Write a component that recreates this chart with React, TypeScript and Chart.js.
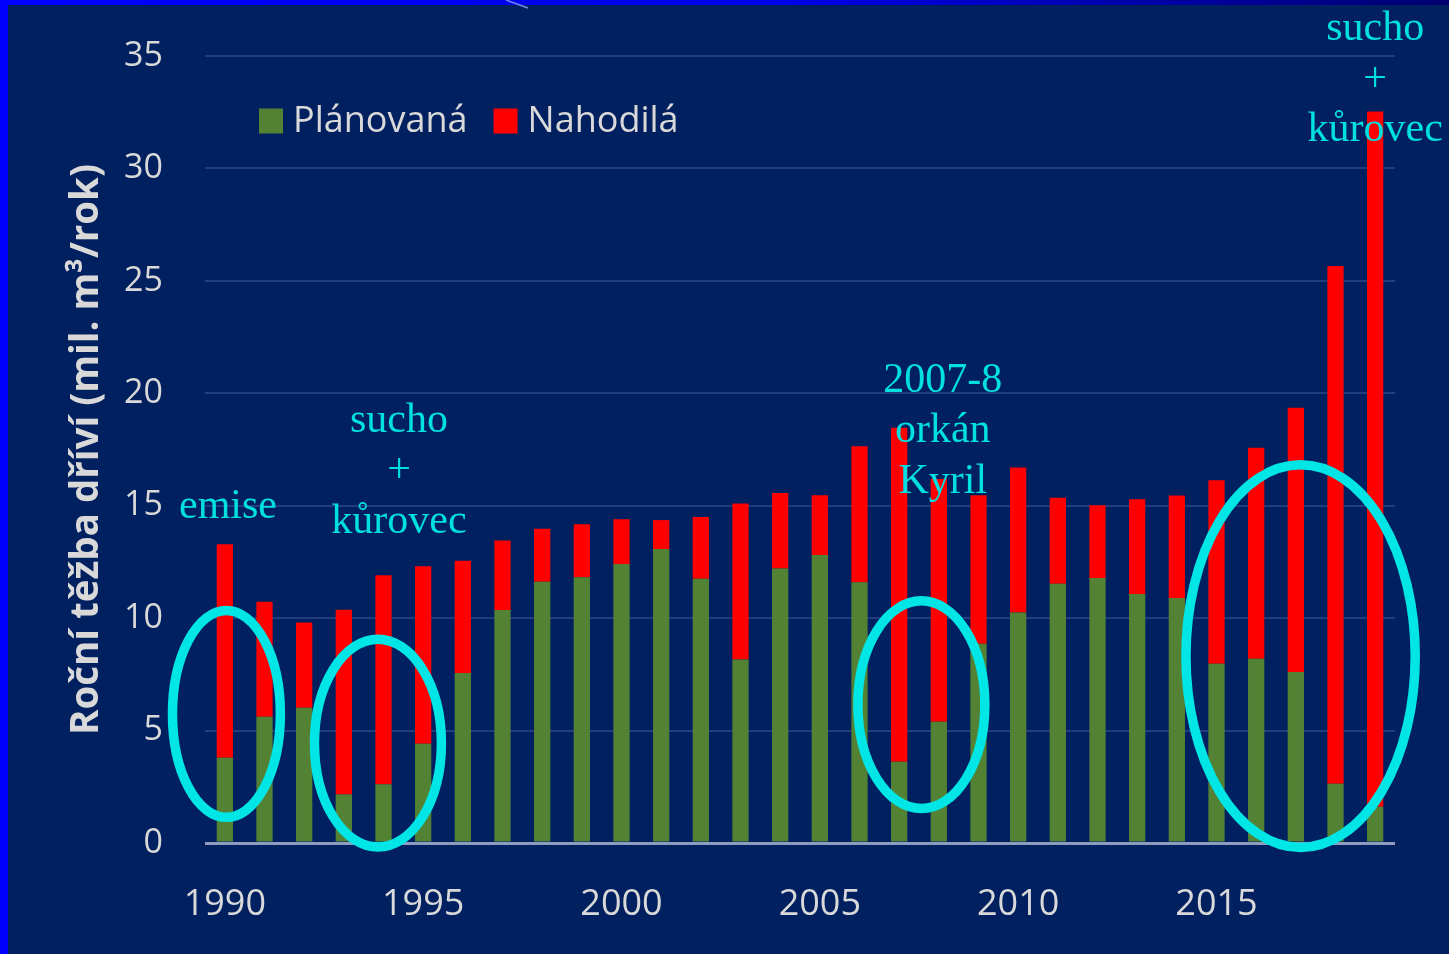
import React, { useEffect, useRef } from 'react';
import { Chart, registerables } from 'chart.js';

Chart.register(...registerables);

// ---- data ----
const years = [
  '1990', '1991', '1992', '1993', '1994', '1995', '1996', '1997', '1998', '1999',
  '2000', '2001', '2002', '2003', '2004', '2005', '2006', '2007', '2008', '2009',
  '2010', '2011', '2012', '2013', '2014', '2015', '2016', '2017', '2018', '2019',
];
const shownYearLabels = ['1990', '1995', '2000', '2005', '2010', '2015'];

// Plánovaná těžba (mil. m3)
const planned = [
  3.79, 5.61, 6.01, 2.16, 2.61, 4.41, 7.56, 10.36, 11.62, 11.82,
  12.41, 13.07, 11.75, 8.16, 12.21, 12.81, 11.6, 3.61, 5.39, 8.86,
  10.25, 11.53, 11.79, 11.07, 10.9, 7.97, 8.19, 7.61, 2.63, 1.61,
];
// Nahodilá těžba (mil. m3)
const salvage = [
  9.5, 5.12, 3.8, 8.21, 9.3, 7.9, 4.99, 3.09, 2.35, 2.36,
  1.99, 1.29, 2.75, 6.94, 3.36, 2.66, 6.04, 14.86, 10.8, 6.61,
  6.45, 3.82, 3.23, 4.22, 4.55, 8.16, 9.39, 11.75, 23.03, 30.92,
];

const seriesLabels = ['Plánovaná', 'Nahodilá'];
const seriesColors = ['#548235', '#ff0000'];

const yTitle = 'Roční těžba dříví (mil. m³/rok)';

// annotation ellipses in data units (category index, value)
const ellipseCx = [0.04, 3.86, 17.56, 27.12];
const ellipseCy = [5.74, 4.44, 6.15, 8.31];
const ellipseRx = [1.36, 1.6, 1.6, 2.89];
const ellipseRy = [4.6, 4.62, 4.62, 8.51];

// annotation texts: lines, anchor category index, first-line baseline value
const noteLines = [
  ['emise'],
  ['sucho', '+', 'kůrovec'],
  ['2007-8', 'orkán', 'Kyril'],
  ['sucho', '+', 'kůrovec'],
];
const noteX = [0.08, 4.39, 18.1, 29.0];
const noteY = [14.45, 18.28, 20.06, 35.71];

const TICK_COLOR = '#d9d9d9';
const SANS = '"Open Sans", "Noto Sans", sans-serif';
const SERIF = '"Liberation Serif", "DejaVu Serif", serif';

const backgroundPlugin = {
  id: 'slideBackground',
  beforeDraw(chart: any) {
    const { ctx, width, height } = chart;
    ctx.save();
    ctx.fillStyle = '#002060';
    ctx.fillRect(0, 0, width, height);
    const g = ctx.createLinearGradient(0, 0, width, 0);
    g.addColorStop(0, '#0000ff');
    g.addColorStop(0.55, '#0000e8');
    g.addColorStop(1, '#000070');
    ctx.fillStyle = g;
    ctx.fillRect(0, 0, width, 5);
    ctx.fillStyle = '#0000ff';
    ctx.fillRect(0, 0, 8, height);
    ctx.strokeStyle = 'rgba(140,170,255,0.8)';
    ctx.lineWidth = 1.5;
    ctx.beginPath();
    ctx.moveTo(506, 0);
    ctx.lineTo(528, 8);
    ctx.stroke();
    ctx.restore();
  },
};

const legendPlugin = {
  id: 'insideLegend',
  afterDraw(chart: any) {
    const { ctx } = chart;
    ctx.save();
    ctx.font = `36px ${SANS}`;
    ctx.textBaseline = 'middle';
    ctx.textAlign = 'left';
    let x = 259;
    const cy = 121;
    chart.data.datasets.forEach((ds: any) => {
      ctx.fillStyle = ds.backgroundColor;
      ctx.fillRect(x, cy - 12.5, 24, 25);
      x += 34;
      ctx.fillStyle = TICK_COLOR;
      ctx.fillText(ds.label, x, cy + 1);
      x += ctx.measureText(ds.label).width + 26;
    });
    ctx.restore();
  },
};

const annotationPlugin = {
  id: 'notes',
  afterDatasetsDraw(chart: any) {
    const { ctx } = chart;
    const xs = chart.scales.x;
    const ys = chart.scales.y;
    ctx.save();
    ctx.strokeStyle = '#00e6e6';
    ctx.lineWidth = 9.5;
    for (let i = 0; i < ellipseCx.length; i++) {
      const cx = xs.getPixelForValue(ellipseCx[i]);
      const cy = ys.getPixelForValue(ellipseCy[i]);
      const rx = Math.abs(xs.getPixelForValue(ellipseCx[i] + ellipseRx[i]) - cx);
      const ry = Math.abs(ys.getPixelForValue(ellipseCy[i] + ellipseRy[i]) - cy);
      ctx.beginPath();
      ctx.ellipse(cx, cy, rx, ry, 0, 0, Math.PI * 2);
      ctx.stroke();
    }
    ctx.fillStyle = '#00e0e0';
    ctx.font = `42px ${SERIF}`;
    ctx.textAlign = 'center';
    ctx.textBaseline = 'alphabetic';
    const lineStep = 50.5;
    for (let i = 0; i < noteLines.length; i++) {
      const x = xs.getPixelForValue(noteX[i]);
      const y0 = ys.getPixelForValue(noteY[i]);
      noteLines[i].forEach((line, j) => {
        ctx.fillText(line, x, y0 + j * lineStep);
      });
    }
    ctx.restore();
  },
};

export default function App() {
  const canvasRef = useRef<HTMLCanvasElement | null>(null);

  useEffect(() => {
    const canvas = canvasRef.current;
    if (!canvas) return;
    const chart = new Chart(canvas, {
      type: 'bar',
      data: {
        labels: years,
        datasets: [
          {
            label: seriesLabels[0],
            data: planned,
            backgroundColor: seriesColors[0],
            categoryPercentage: 1,
            barPercentage: 0.41,
          },
          {
            label: seriesLabels[1],
            data: salvage,
            backgroundColor: seriesColors[1],
            categoryPercentage: 1,
            barPercentage: 0.41,
          },
        ],
      },
      options: {
        responsive: false,
        animation: false,
        devicePixelRatio: 1,
        layout: { padding: { left: 0, right: 54, top: 56, bottom: 0 } },
        plugins: {
          legend: { display: false },
          tooltip: { enabled: false },
          title: { display: false },
        },
        scales: {
          x: {
            stacked: true,
            offset: true,
            grid: { display: false },
            border: { display: false },
            ticks: {
              autoSkip: false,
              maxRotation: 0,
              minRotation: 0,
              padding: 32,
              color: TICK_COLOR,
              font: { family: SANS, size: 36 },
              callback: (_v: any, i: number) =>
                shownYearLabels.includes(years[i]) ? years[i] : '',
            },
            afterFit: (s: any) => {
              s.height = 111;
              s.paddingLeft = 0;
              s.paddingRight = 0;
            },
          },
          y: {
            stacked: true,
            min: 0,
            max: 35,
            border: { display: false },
            grid: {
              drawTicks: false,
              color: (c: any) => (c.tick && c.tick.value === 0 ? '#8e9cc0' : '#223d7c'),
              lineWidth: (c: any) => (c.tick && c.tick.value === 0 ? 3 : 2),
            },
            ticks: {
              stepSize: 5,
              padding: 42,
              color: TICK_COLOR,
              font: { family: SANS, size: 34 },
            },
            title: {
              display: true,
              text: yTitle,
              color: TICK_COLOR,
              font: { family: SANS, size: 38.5, weight: 'bold' },
              padding: { top: 64, bottom: 0 },
            },
            afterFit: (s: any) => {
              s.width = 205;
              s.paddingTop = 0;
              s.paddingBottom = 0;
            },
          },
        },
      },
      plugins: [backgroundPlugin, annotationPlugin, legendPlugin],
    } as any);
    return () => chart.destroy();
  }, []);

  return (
    <div style={{ position: 'fixed', left: 0, top: 0, width: 1449, height: 954 }}>
      <canvas
        ref={canvasRef}
        width={1449}
        height={954}
        style={{ width: 1449, height: 954, display: 'block' }}
      />
    </div>
  );
}
